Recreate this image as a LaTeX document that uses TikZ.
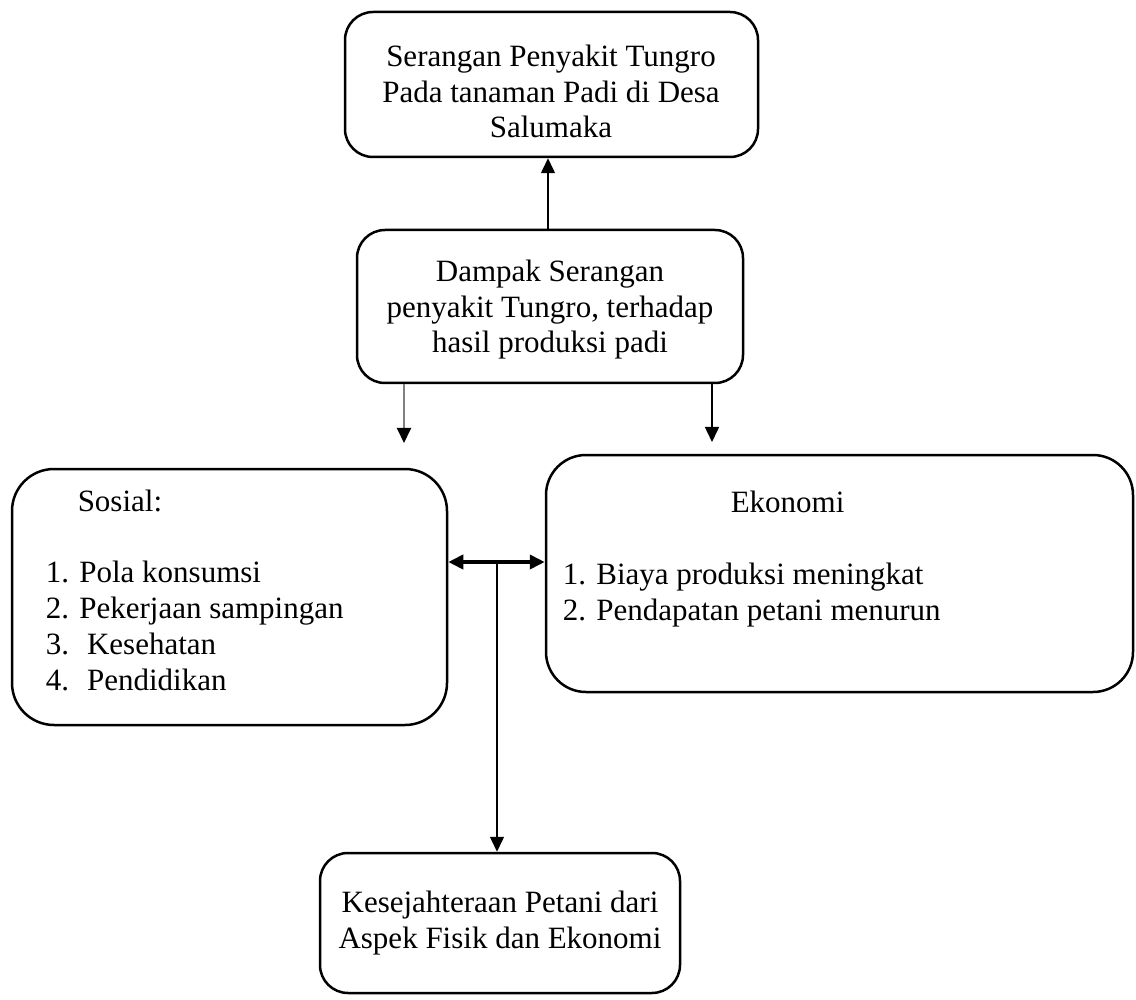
\documentclass[tikz,border=0pt]{standalone}
\usepackage{fontspec}
\setmainfont{Liberation Serif}
\usepackage{tikz}
\usetikzlibrary{arrows.meta}

\begin{document}
\begin{tikzpicture}[x=1pt,y=-1pt,->,>={Triangle[width=14pt,length=15pt]},
                    line width=1.5pt]
\tikzstyle{box}=[draw,rectangle,line width=2.5pt,inner sep=0pt]
\tikzstyle{txt}=[font=\fontsize{31}{35.7}\selectfont,inner sep=0pt,anchor=base]
\useasboundingbox (0,0) rectangle (1136,1000);
% boxes
\path
node[box,rounded corners=28pt,minimum width=413pt,minimum height=145pt] (tungro) at (551.5,84.5) {}
node[box,rounded corners=28pt,minimum width=386pt,minimum height=153pt] (dampak) at (550,306.5) {}
node[box,rounded corners=42pt,minimum width=435pt,minimum height=256pt] (sosial) at (229.5,597) {}
node[box,rounded corners=40pt,minimum width=587pt,minimum height=237pt] (ekonomi) at (839.5,573.5) {}
node[box,rounded corners=28pt,minimum width=360pt,minimum height=140pt] (sejahtera) at (500,923) {};
% texts (placed at the baseline of their last line)
\path
node[txt,align=center] (tungrotxt) at (551,138) {Serangan Penyakit Tungro\\Pada tanaman Padi di Desa\\Salumaka}
node[txt,align=center] (dampaktxt) at (550,353) {Dampak Serangan\\penyakit Tungro, terhadap\\hasil produksi padi}
node[txt,align=left,anchor=base west] (sosialtxt) at (45,690)
  {\hspace*{32pt}Sosial:\\[35.7pt]1. Pola konsumsi\\2. Pekerjaan sampingan\\3.~ Kesehatan\\4.~ Pendidikan}
node[txt,align=left,anchor=base west] (ekonomitxt) at (562,620)
  {\hspace*{168pt}Ekonomi\\[35.7pt]1. Biaya produksi meningkat\\2. Pendapatan petani menurun}
node[txt,align=center] (sejahteratxt) at (500,948) {Kesejahteraan Petani dari\\Aspek Fisik dan Ekonomi};
% connectors
\coordinate (sosend) at (404,443);
\coordinate (ekoend) at (712,442);
\coordinate (hub) at (497,562);
\draw (dampak.north -| 548,0) -- (tungro.south -| 548,0);
\draw[draw=gray,line width=2pt,-{Triangle[width=14pt,length=15pt,color=black]}]
  (dampak.south -| sosend) -- (sosend);
\draw (dampak.south -| ekoend) -- (ekoend);
\draw[<->,line width=4pt] (sosial.east |- hub) -- (ekonomi.west |- hub);
\draw (hub) -- (hub |- sejahtera.north);
\end{tikzpicture}
\end{document}
